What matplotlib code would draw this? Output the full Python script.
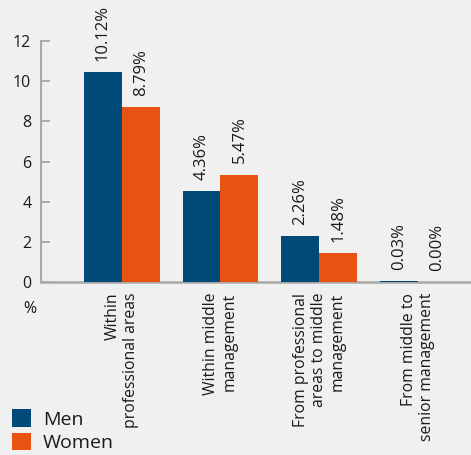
import matplotlib
matplotlib.use("Agg")
import matplotlib.pyplot as plt
import numpy as np

categories = ["Within\nprofessional areas", "Within middle\nmanagement",
              "From professional\nareas to middle\nmanagement",
              "From middle to\nsenior management"]
men_values = [10.45, 4.53, 2.28, 0.03]
women_values = [8.70, 5.35, 1.43, 0.0]
men_labels = ["10.12%", "4.36%", "2.26%", "0.03%"]
women_labels = ["8.79%", "5.47%", "1.48%", "0.00%"]
series_names = ["Men", "Women"]
yticks = [0, 2, 4, 6, 8, 10, 12]

NAVY = "#004a7a"
ORANGE = "#e85314"
BG = "#f0f0f0"
GREY = "#a8a8a8"
TXT = "#1a1a1a"

plt.rcParams['font.family'] = ['Open Sans', 'DejaVu Sans']

fig = plt.figure(figsize=(4.71, 4.55), dpi=100, facecolor=BG)
ax = fig.add_axes([41/471, 1 - 281.7/455, 1 - 41/471, (281.7 - 41.3)/455])
ax.set_facecolor(BG)

x = np.arange(len(categories))
w = 0.385
b1 = ax.bar(x - w/2, men_values, w, color=NAVY, label=series_names[0], zorder=3)
b2 = ax.bar(x + w/2, women_values, w, color=ORANGE, label=series_names[1], zorder=3)

for bars, labs in ((b1, men_labels), (b2, women_labels)):
    for rect, lab in zip(bars, labs):
        ax.annotate(lab, (rect.get_x() + rect.get_width()/2, rect.get_height()),
                    xytext=(0, 8), textcoords="offset points", rotation=90,
                    ha="center", va="bottom", fontsize=12, color=TXT,
                    annotation_clip=False)

ax.set_xlim(-0.82, 3.54)
ax.set_ylim(0, 12)
ax.set_yticks(yticks)
ax.set_xticks(x)
ax.set_xticklabels(categories, rotation=90, ha="center", va="top",
                   multialignment="right", fontsize=11.3, color=TXT)
ax.tick_params(axis="x", length=0, pad=8)
ax.tick_params(axis="y", direction="in", length=6.5, width=1.3, color=GREY,
               labelsize=11.5, labelcolor=TXT, pad=7)
for s in ("top", "right"):
    ax.spines[s].set_visible(False)
ax.spines["left"].set_color(GREY)
ax.spines["left"].set_linewidth(1.5)
ax.spines["bottom"].set_color(GREY)
ax.spines["bottom"].set_linewidth(1.8)
ax.spines["bottom"].set_zorder(2)

fig.text(30/471, 1 - 309/455, "%", ha="center", va="center", fontsize=11.5, color=TXT)

leg = fig.legend(handles=[b1, b2], labels=series_names, loc="lower left",
                 bbox_to_anchor=(12/471, 1 - 452/455), frameon=False,
                 fontsize=14, handlelength=1.0, handleheight=1.0,
                 handletextpad=0.6, labelspacing=0.2, borderpad=0,
                 borderaxespad=0)
for t in leg.get_texts():
    t.set_color(TXT)

fig.savefig("out.png", dpi=100, facecolor=BG)
